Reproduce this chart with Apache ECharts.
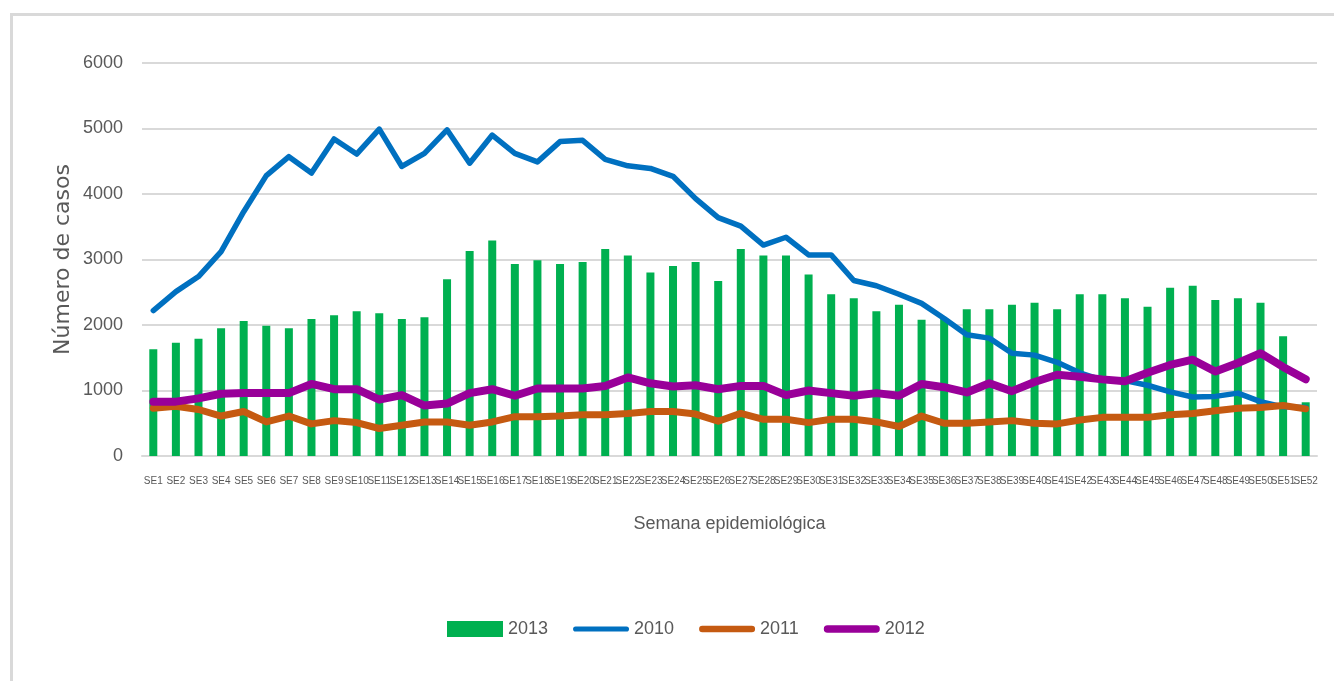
<!DOCTYPE html>
<html>
<head>
<meta charset="utf-8">
<title>Número de casos por semana epidemiológica</title>
<script src="https://cdn.jsdelivr.net/npm/echarts@6/dist/echarts.min.js"></script>
<style>
	html, body { margin: 0; padding: 0; background: #fff; }
	#frame { position: absolute; left: 10px; top: 13px; width: 1330px; height: 680px; border-left: 3px solid #d9d9d9; border-top: 3px solid #d9d9d9; }
	#casos { position: absolute; left: 0; top: 0; width: 1334px; height: 681px; }
</style>
</head>
<body>
<div id="frame"></div>
<div id="casos"></div>
<script>
// semanas SE1..SE52
var semanas = [];
for (var i = 1; i <= 52; i++) {
	semanas.push('SE' + i);
}

var casos2013 = [1630, 1730, 1790, 1950, 2060, 1990, 1950, 2090, 2150, 2210, 2180, 2090, 2120, 2700, 3130, 3290, 2930, 2990, 2930, 2960,
	3160, 3060, 2800, 2900, 2960, 2670, 3160, 3060, 3060, 2770, 2470, 2410, 2210, 2310, 2080, 2100, 2240, 2240, 2310, 2340,
	2240, 2470, 2470, 2410, 2280, 2570, 2600, 2380, 2410, 2340, 1830, 820];

var casos2010 = [2220, 2510, 2740, 3120, 3730, 4280, 4570, 4320, 4840, 4610, 4990, 4420, 4620, 4980, 4470, 4900, 4620, 4490, 4800, 4820,
	4530, 4430, 4390, 4270, 3930, 3640, 3510, 3220, 3340, 3070, 3070, 2680, 2600, 2470, 2330, 2100, 1850, 1800, 1570, 1540,
	1430, 1270, 1160, 1150, 1080, 980, 900, 910, 960, 830, 750, 740];

var casos2011 = [730, 760, 710, 610, 680, 520, 610, 490, 540, 510, 420, 470, 520, 520, 470, 520, 600, 600, 610, 630,
	630, 650, 680, 680, 640, 530, 650, 560, 560, 510, 560, 560, 520, 450, 610, 500, 500, 520, 540, 500,
	490, 550, 590, 590, 590, 630, 650, 690, 730, 740, 770, 720];

var casos2012 = [830, 830, 880, 950, 960, 960, 960, 1100, 1020, 1020, 860, 930, 770, 800, 960, 1020, 920, 1030, 1030, 1030,
	1070, 1200, 1110, 1060, 1080, 1020, 1070, 1070, 930, 1000, 960, 920, 960, 920, 1100, 1050, 970, 1110, 990, 1130,
	1240, 1210, 1170, 1140, 1270, 1390, 1470, 1290, 1420, 1570, 1360, 1170];

var yTicks = [0, 1000, 2000, 3000, 4000, 5000, 6000];

var fuente = '"Liberation Sans", Arial, sans-serif';
var gris = '#595959';

// iconos de leyenda: barra llena y trazos redondeados de distinto grosor
function trazo(h) {
	var r = h / 2;
	return 'path://M' + r + ',0 L' + (60 - r) + ',0 A' + r + ',' + r + ' 0 0 1 ' + (60 - r) + ',' + h +
		' L' + r + ',' + h + ' A' + r + ',' + r + ' 0 0 1 ' + r + ',0 Z';
}

var myChart = echarts.init(document.getElementById('casos'));
var option = {
	animation: false,
	color: ['#00b050', '#0070c0', '#c55a11', '#990099'],
	grid: {
		left: 142,
		right: 17,
		top: 63,
		bottom: 225
	},
	legend: {
		left: 442,
		top: 615,
		itemWidth: 56,
		itemHeight: 16,
		itemGap: 25,
		textStyle: {
			fontFamily: fuente,
			fontSize: 18,
			color: gris
		},
		data: [
			{ name: '2013', icon: 'rect' },
			{ name: '2010', icon: trazo(5.5) },
			{ name: '2011', icon: trazo(7) },
			{ name: '2012', icon: trazo(8) }
		]
	},
	xAxis: [{
		type: 'category',
		boundaryGap: true,
		data: semanas,
		name: 'Semana epidemiológica',
		nameLocation: 'middle',
		nameGap: 59,
		nameMoveOverlap: false,
		nameTextStyle: {
			fontFamily: fuente,
			fontSize: 18,
			color: gris
		},
		axisLine: {
			lineStyle: { color: '#d9d9d9', width: 2 }
		},
		axisTick: { show: false },
		axisLabel: {
			interval: 0,
			margin: 20,
			fontFamily: fuente,
			fontSize: 10,
			color: gris
		}
	}],
	yAxis: [{
		type: 'value',
		min: yTicks[0],
		max: yTicks[yTicks.length - 1],
		interval: 1000,
		name: 'Número de casos',
		nameLocation: 'middle',
		nameGap: 68,
		nameMoveOverlap: false,
		nameTextStyle: {
			fontFamily: '"DejaVu Sans", sans-serif',
			fontSize: 22,
			color: gris
		},
		axisLabel: {
			margin: 19,
			fontFamily: fuente,
			fontSize: 18,
			color: gris,
			formatter: function(v) {
				return String(v);
			}
		},
		splitLine: {
			lineStyle: { color: '#d9d9d9', width: 2 }
		}
	}],
	series: [{
		name: '2013',
		type: 'bar',
		barWidth: 8,
		data: casos2013
	}, {
		name: '2010',
		type: 'line',
		symbol: 'none',
		lineStyle: { width: 5.5, cap: 'round', join: 'round' },
		data: casos2010
	}, {
		name: '2011',
		type: 'line',
		symbol: 'none',
		lineStyle: { width: 7, cap: 'round', join: 'round' },
		data: casos2011
	}, {
		name: '2012',
		type: 'line',
		symbol: 'none',
		lineStyle: { width: 8, cap: 'round', join: 'round' },
		data: casos2012
	}]
};
myChart.setOption(option);
</script>
</body>
</html>
